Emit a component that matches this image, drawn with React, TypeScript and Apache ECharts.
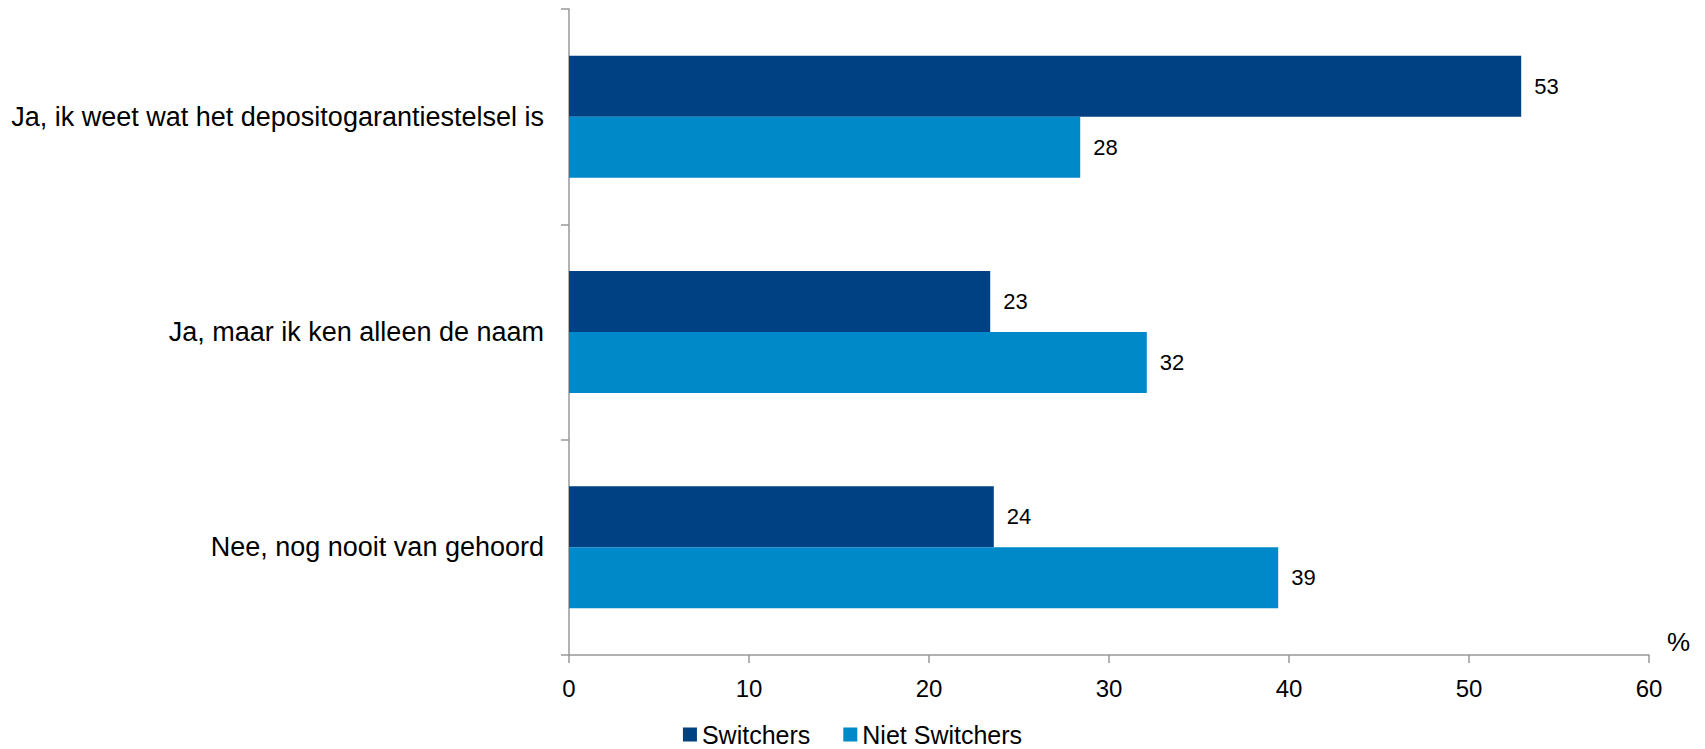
import React, { useEffect, useRef } from "react";
import * as echarts from "echarts";

const categories = [
  "Ja, ik weet wat het depositogarantiestelsel is",
  "Ja, maar ik ken alleen de naam",
  "Nee, nog nooit van gehoord",
];
const switchers = [52.9, 23.4, 23.6];
const nietSwitchers = [28.4, 32.1, 39.4];
const seriesNames = ["Switchers", "Niet Switchers"];
const xTicks = { min: 0, max: 60, interval: 10 };

const FONT = "'Liberation Sans', Arial, sans-serif";

export default function App() {
  const ref = useRef<HTMLDivElement>(null);
  useEffect(() => {
    if (!ref.current) return;
    const chart = echarts.init(ref.current, null, { renderer: "svg" });
    const label = {
      show: true,
      position: "right",
      distance: 13,
      color: "#000",
      fontSize: 22,
      fontFamily: FONT,
      formatter: (p: any) => String(Math.round(p.value)),
    };
    chart.setOption({
      animation: false,
      textStyle: { fontFamily: FONT },
      grid: { left: 569, right: 56, top: 9, bottom: 94, containLabel: false },
      legend: {
        top: 722,
        left: "center",
        padding: 0,
        itemWidth: 14,
        itemHeight: 14,
        itemGap: 33,
        icon: "rect",
        textStyle: { fontSize: 25, color: "#000", fontFamily: FONT, lineHeight: 25 },
        data: seriesNames,
      },
      xAxis: {
        type: "value",
        min: xTicks.min,
        max: xTicks.max,
        interval: xTicks.interval,
        name: "%",
        nameLocation: "end",
        nameGap: 18,
        nameTextStyle: { fontSize: 26, color: "#000", fontFamily: FONT, verticalAlign: "bottom" },
        axisLine: { show: true, lineStyle: { color: "#999", width: 1.5 } },
        axisTick: { show: true, length: 8, lineStyle: { color: "#999", width: 1.5 } },
        axisLabel: { fontSize: 24, color: "#000", margin: 21, fontFamily: FONT },
        splitLine: { show: false },
      },
      yAxis: {
        type: "category",
        inverse: true,
        data: categories,
        axisLine: { show: true, lineStyle: { color: "#999", width: 1.5 } },
        axisTick: { show: true, length: 8, lineStyle: { color: "#999", width: 1.5 } },
        axisLabel: { fontSize: 27, color: "#000", margin: 25, fontFamily: FONT },
      },
      series: [
        {
          name: seriesNames[0],
          type: "bar",
          data: switchers,
          itemStyle: { color: "#004183" },
          barWidth: 61,
          barGap: "0%",
          barCategoryGap: "43%",
          label,
        },
        {
          name: seriesNames[1],
          type: "bar",
          data: nietSwitchers,
          itemStyle: { color: "#0089C9" },
          barWidth: 61,
          barGap: "0%",
          barCategoryGap: "43%",
          label,
        },
      ],
    });
    return () => chart.dispose();
  }, []);
  return (
    <div
      ref={ref}
      style={{ position: "absolute", left: 0, top: 0, width: 1705, height: 749, background: "#fff" }}
    />
  );
}
